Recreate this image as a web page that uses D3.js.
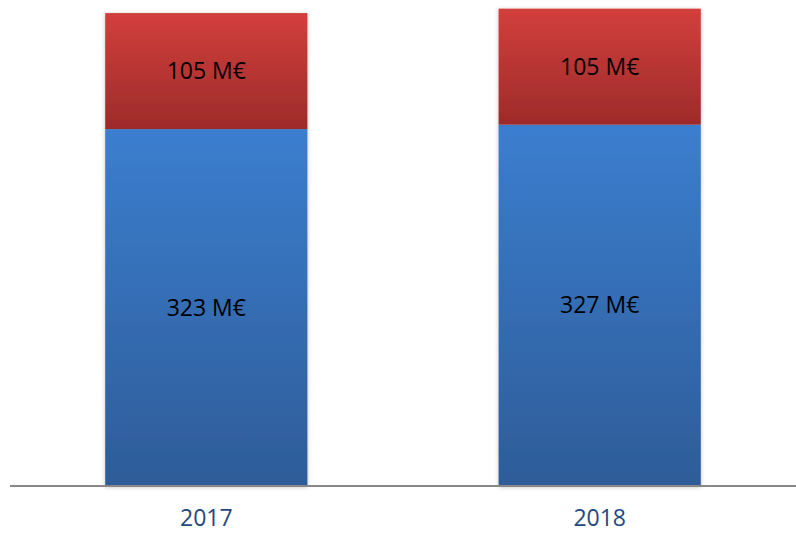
<!DOCTYPE html>
<html>
<head>
<meta charset="utf-8">
<script src="https://cdn.jsdelivr.net/npm/d3@7"></script>
<style>
  body { margin: 0; background: #fff; }
  svg { display: block; font-family: "Open Sans", "Noto Sans", sans-serif; }
</style>
</head>
<body>
<svg id="chart" width="796" height="533"></svg>
<script>
// values, in M€
const years = ['2017', '2018'];
const baseValues = [323, 327];
const topValues = [105, 105];
const unitLabel = 'M€';

const width = 796;
const height = 533;
const margin = { top: 0, right: 0, bottom: 47, left: 10 };

const svg = d3.select('#chart');

const x = d3.scaleBand()
  .domain(years)
  .range([margin.left, width - margin.right])
  .paddingInner(0.486)
  .paddingOuter(0.242);

// 1.105 px per M€ matches the bar heights in the picture
const baseline = height - margin.bottom;
const y = d3.scaleLinear()
  .domain([0, 432])
  .range([baseline, baseline - 432 * 1.105]);

const defs = svg.append('defs');

function gradient(id, top, bottom) {
  const g = defs.append('linearGradient')
    .attr('id', id)
    .attr('x1', 0).attr('y1', 0)
    .attr('x2', 0).attr('y2', 1);
  g.append('stop').attr('offset', '0%').attr('stop-color', top);
  g.append('stop').attr('offset', '100%').attr('stop-color', bottom);
}
gradient('blueGrad', '#3b7ecf', '#2e5c98');
gradient('redGrad', '#d23f3c', '#9d2b2a');

const shadow = defs.append('filter')
  .attr('id', 'shadow')
  .attr('x', '-10%').attr('y', '-10%')
  .attr('width', '120%').attr('height', '120%');
shadow.append('feDropShadow')
  .attr('dx', 0).attr('dy', 1)
  .attr('stdDeviation', 2)
  .attr('flood-color', '#000')
  .attr('flood-opacity', 0.25);

const data = years.map((year, i) => ({
  year,
  base: baseValues[i],
  top: topValues[i]
}));

const groups = svg.append('g')
  .selectAll('g')
  .data(data)
  .join('g')
  .attr('filter', 'url(#shadow)');

groups.append('rect')
  .attr('x', (d) => x(d.year))
  .attr('width', x.bandwidth())
  .attr('y', (d) => y(d.base))
  .attr('height', (d) => y(0) - y(d.base))
  .attr('fill', 'url(#blueGrad)');

groups.append('rect')
  .attr('x', (d) => x(d.year))
  .attr('width', x.bandwidth())
  .attr('y', (d) => y(d.base + d.top))
  .attr('height', (d) => y(d.base) - y(d.base + d.top))
  .attr('fill', 'url(#redGrad)');

const labels = svg.append('g')
  .attr('font-size', 23)
  .attr('fill', '#000')
  .attr('text-anchor', 'middle');

labels.selectAll('.base-label')
  .data(data)
  .join('text')
  .attr('class', 'base-label')
  .attr('x', (d) => x(d.year) + x.bandwidth() / 2)
  .attr('y', (d) => y(d.base / 2))
  .attr('dy', '0.35em')
  .text((d) => `${d.base} ${unitLabel}`);

labels.selectAll('.top-label')
  .data(data)
  .join('text')
  .attr('class', 'top-label')
  .attr('x', (d) => x(d.year) + x.bandwidth() / 2)
  .attr('y', (d) => y(d.base + d.top / 2))
  .attr('dy', '0.35em')
  .text((d) => `${d.top} ${unitLabel}`);

// category axis
const axis = d3.axisBottom(x).tickSize(0).tickPadding(24);
const axisG = svg.append('g')
  .attr('transform', `translate(0,${baseline})`)
  .call(axis);

axisG.select('.domain')
  .attr('d', `M${margin.left},0H${width}`)
  .attr('stroke', '#888')
  .attr('stroke-width', 2);

axisG.selectAll('.tick text')
  .attr('font-size', 23)
  .attr('font-family', '"Open Sans", "Noto Sans", sans-serif')
  .attr('fill', '#1f497d');
</script>
</body>
</html>
